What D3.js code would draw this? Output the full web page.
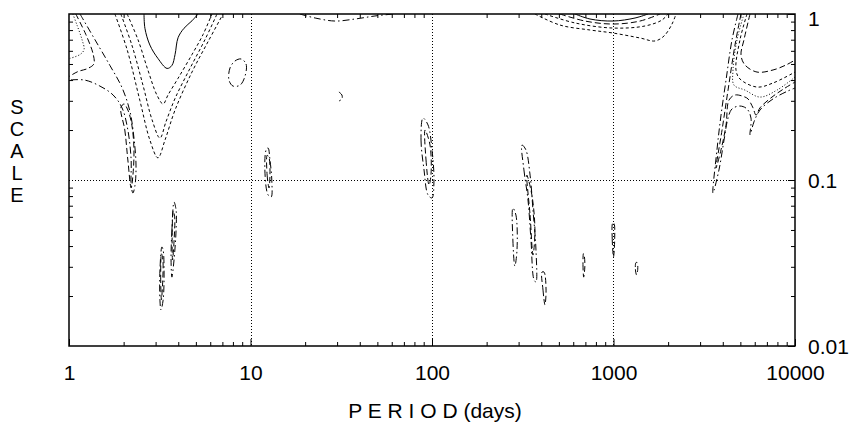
<!DOCTYPE html>
<html><head><meta charset="utf-8">
<script src="https://cdn.jsdelivr.net/npm/d3@7"></script>
<style>
body{margin:0;background:#fff}
svg{display:block}
text{font-family:"Liberation Sans",Arial,Helvetica,sans-serif;fill:#000}
</style>
</head><body>
<svg id="chart" width="860" height="424"></svg>
<script>
// ---------- data ----------
const xTickValues = [1, 10, 100, 1000, 10000];
const xTickLabels = ["1", "10", "100", "1000", "10000"];
const yTickValues = [1, 0.1, 0.01];
const yTickLabels = ["1", "0.1", "0.01"];
const xGrid = [10, 100, 1000];
const yGrid = [0.1];
const xTitle = "P E R I O D (days)";
const yTitle = ["S", "C", "A", "L", "E"];

// contour paths, [period (days), scale], grouped by contour level
const levelSolid = [
  [[614,1],[742,0.933],[994,0.907],[1314,0.946],[1549,1]],
  [[2.59,1],[2.62,0.82],[2.79,0.65],[3.09,0.54],[3.47,0.47],[3.69,0.49],[3.84,0.57],[3.99,0.72],[4.30,0.82],[4.76,0.91],[5.14,1]]
];
const levelDash = [
  [[1.09,1],[1.24,0.75],[1.36,0.57],[1.37,0.50],[1.27,0.47],[1.12,0.45],[1,0.42]],
  [[1.93,0.272],[2.03,0.2],[2.11,0.132],[2.2,0.0895],[2.25,0.107],[2.28,0.152],[2.22,0.214],[2.11,0.264],[2.01,0.287],[1.93,0.272]],
  [[507,1],[697,0.907],[994,0.87],[1400,0.907],[1804,1]],
  [[5040,1],[4670,0.65],[4276,0.348],[3963,0.2],[3671,0.118],[3912,0.152],[4169,0.214],[4329,0.303],[4670,0.325],[5302,0.316],[5508,0.308],[5870,0.272],[6100,0.246],[6412,0.272],[7470,0.316],[8810,0.358],[10000,0.389]],
  [[5649,1],[5236,0.70],[5040,0.566],[5302,0.493],[6175,0.447],[7568,0.46],[8920,0.493],[10000,0.528]],
  [[12.35,0.141],[12.35,0.107],[12.65,0.0895],[12.8,0.107],[12.65,0.136],[12.35,0.141]],
  [[91.5,0.2],[92.7,0.132],[96.3,0.0933],[98.7,0.107],[97.5,0.1625],[91.5,0.2]],
  [[333,0.107],[347,0.0615],[360,0.0353],[369,0.05],[355,0.0813],[333,0.107]],
  [[404,0.0279],[409,0.0217],[419,0.0177],[425,0.0217],[414,0.0279],[404,0.0279]],
  [[683,0.036],[679,0.031],[685,0.026],[695,0.030],[690,0.035],[683,0.036]],
  [[990,0.055],[984,0.044],[1000,0.0344],[1015,0.044],[1005,0.055],[990,0.055]],
  [[1330,0.0318],[1320,0.029],[1340,0.0268],[1360,0.029],[1350,0.0318],[1330,0.0318]],
  [[3.75,0.065],[3.70,0.045],[3.72,0.033],[3.80,0.045],[3.82,0.06],[3.75,0.065]],
  [[3.23,0.036],[3.20,0.026],[3.23,0.019],[3.28,0.024],[3.29,0.033],[3.23,0.036]]
];
const levelShortDash = [
  [[2.09,1],[2.40,0.70],[2.72,0.46],[3.05,0.325],[3.30,0.287],[3.51,0.325],[3.99,0.41],[4.76,0.57],[5.47,0.75],[6.13,1]],
  [[1.93,1],[2.22,0.65],[2.56,0.37],[2.87,0.23],[3.17,0.179],[3.42,0.224],[3.84,0.31],[4.64,0.47],[5.61,0.70],[6.54,1]],
  [[1.79,1],[2.09,0.61],[2.46,0.30],[2.79,0.174],[3.09,0.136],[3.38,0.174],[3.84,0.264],[4.76,0.447],[5.83,0.68],[7.06,1]],
  [[419,1],[614,0.883],[994,0.823],[1492,0.847],[1850,0.92],[1995,1]],
  [[369,1],[507,0.858],[742,0.801],[994,0.768],[1400,0.717],[1693,0.688],[1898,0.737],[2101,0.87],[2210,1]],
  [[5440,1],[4977,0.70],[4730,0.46],[4977,0.406],[6175,0.363],[7568,0.384],[10000,0.447]]
];
const levelDot = [
  [[1.05,1],[1.11,0.85],[1.18,0.70],[1.21,0.61],[1.15,0.57],[1.01,0.54]],
  [[5236,1],[4791,0.70],[4554,0.46],[4613,0.373],[5302,0.348],[6412,0.316],[7960,0.348],[10000,0.417]]
];
const levelDashDot = [
  [[1.15,1],[1.39,0.70],[1.68,0.49],[1.96,0.36],[2.17,0.257],[2.28,0.179],[2.34,0.123],[2.31,0.093],[2.25,0.0835],[2.2,0.093],[2.2,0.132],[2.11,0.2],[1.96,0.272],[1.75,0.325],[1.48,0.368],[1.22,0.40],[1,0.40]],
  [[8.87,0.536],[9.45,0.50],[9.33,0.423],[8.76,0.373],[8.01,0.368],[7.61,0.40],[7.71,0.473],[8.21,0.521],[8.87,0.536]],
  [[18.7,1],[22.7,0.946],[29.2,0.907],[37.7,0.933],[48.5,0.973],[61,1]],
  [[30.7,0.339],[31.9,0.325],[31.9,0.308],[30.7,0.299]],
  [[12.2,0.152],[12.0,0.115],[12.5,0.0813],[13.0,0.079],[13.1,0.1],[12.8,0.132],[12.5,0.156],[12.2,0.152]],
  [[89.2,0.236],[87.0,0.174],[90.4,0.115],[95.1,0.0813],[100,0.078],[102.5,0.1],[100,0.152],[95.1,0.2145],[89.2,0.236]],
  [[313,0.1625],[321,0.115],[338,0.0758],[351,0.0435],[365,0.025],[374,0.0243],[374,0.0379],[360,0.066],[347,0.107],[329,0.152],[313,0.1625]],
  [[279,0.0678],[279,0.0435],[286,0.0303],[294,0.0379],[290,0.0615],[279,0.0678]],
  [[3.79,0.0737],[3.69,0.05],[3.65,0.033],[3.69,0.026],[3.79,0.033],[3.89,0.05],[3.89,0.066],[3.79,0.0737]],
  [[3.25,0.0395],[3.17,0.0287],[3.17,0.0189],[3.21,0.0165],[3.30,0.0189],[3.34,0.0287],[3.30,0.0379],[3.25,0.0395]],
  [[4853,1],[4498,0.70],[4169,0.40],[3912,0.246],[3716,0.152],[3531,0.0835],[3811,0.115],[4064,0.174],[4276,0.236],[4498,0.268],[4977,0.279],[5440,0.268],[5723,0.236],[5649,0.187],[5943,0.224],[6412,0.264],[7568,0.308],[9151,0.344],[10000,0.358]]
];

// ---------- layout / styles ----------
const M = {l: 69, r: 795, t: 14, b: 346};
const FS = 21;
const styles = [
  {paths: levelSolid, dash: null},
  {paths: levelDash, dash: "6,3"},
  {paths: levelShortDash, dash: "3,2.5"},
  {paths: levelDot, dash: "1,2"},
  {paths: levelDashDot, dash: "7,3,1.5,3"}
];

const svg = d3.select("#chart");
const x = d3.scaleLog().domain([1, 10000]).range([M.l, M.r]);
const y = d3.scaleLog().domain([0.01, 1]).range([M.b, M.t]);

svg.append("defs").append("clipPath").attr("id", "clip")
  .append("rect").attr("x", M.l).attr("y", M.t).attr("width", M.r - M.l).attr("height", M.b - M.t);

// grid
const grid = svg.append("g").attr("stroke", "#000").attr("stroke-width", 1).attr("stroke-dasharray", "1,2");
grid.selectAll(".gx").data(xGrid).join("line")
  .attr("x1", d => Math.round(x(d)) + 0.5).attr("x2", d => Math.round(x(d)) + 0.5)
  .attr("y1", M.t).attr("y2", M.b);
grid.selectAll(".gy").data(yGrid).join("line")
  .attr("y1", d => Math.round(y(d)) + 0.5).attr("y2", d => Math.round(y(d)) + 0.5)
  .attr("x1", M.l).attr("x2", M.r);

// contours
const openLine = d3.line().x(d => x(d[0])).y(d => y(d[1])).curve(d3.curveCatmullRom.alpha(0.5));
const closedLine = d3.line().x(d => x(d[0])).y(d => y(d[1])).curve(d3.curveCatmullRomClosed.alpha(0.5));
const cg = svg.append("g").attr("clip-path", "url(#clip)");
styles.forEach(s => {
  cg.append("g").selectAll("path").data(s.paths).join("path")
    .attr("d", p => {
      const a = p[0], b = p[p.length - 1];
      if (a[0] === b[0] && a[1] === b[1]) return closedLine(p.slice(0, -1));
      return openLine(p);
    })
    .attr("fill", "none").attr("stroke", "#000").attr("stroke-width", 1)
    .attr("stroke-dasharray", s.dash);
});

// minor ticks
const xMinor = x.ticks().filter(v => !xTickValues.includes(v));
const yMinor = y.ticks().filter(v => !yTickValues.includes(v));
function clean(g){ g.select(".domain").remove(); g.selectAll("line").attr("stroke", "#000"); }
svg.append("g").attr("transform", `translate(0,${M.b})`)
  .call(d3.axisBottom(x).tickValues(xMinor).tickSize(-4).tickFormat("")).call(clean);
svg.append("g").attr("transform", `translate(0,${M.t})`)
  .call(d3.axisTop(x).tickValues(xMinor).tickSize(-4).tickFormat("")).call(clean);
svg.append("g").attr("transform", `translate(${M.l},0)`)
  .call(d3.axisLeft(y).tickValues(yMinor).tickSize(-4).tickFormat("")).call(clean);
svg.append("g").attr("transform", `translate(${M.r},0)`)
  .call(d3.axisRight(y).tickValues(yMinor).tickSize(-4).tickFormat("")).call(clean);

// major ticks + labels
const xa = svg.append("g").attr("transform", `translate(0,${M.b})`)
  .call(d3.axisBottom(x).tickValues(xTickValues).tickSize(-7).tickPadding(19)
    .tickFormat((d, i) => xTickLabels[i]));
xa.call(clean);
xa.selectAll("text").attr("font-size", FS).attr("font-family", "Liberation Sans, Arial, sans-serif");
const ya = svg.append("g").attr("transform", `translate(${M.r},0)`)
  .call(d3.axisRight(y).tickValues(yTickValues).tickSize(-7).tickPadding(13)
    .tickFormat((d, i) => yTickLabels[i]));
ya.call(clean);
ya.selectAll("text").attr("font-size", FS).attr("font-family", "Liberation Sans, Arial, sans-serif")
  .attr("dy", (d, i) => i === 0 ? "0.55em" : "0.35em");

// frame
svg.append("rect").attr("x", M.l).attr("y", M.t).attr("width", M.r - M.l).attr("height", M.b - M.t)
  .attr("fill", "none").attr("stroke", "#000").attr("stroke-width", 1.5);

// titles
svg.append("text").attr("x", (M.l + M.r) / 2 + 3).attr("y", 418).attr("text-anchor", "middle")
  .attr("font-size", FS).text(xTitle);
svg.append("g").selectAll("text").data(yTitle).join("text")
  .attr("x", 17).attr("y", (d, i) => 114 + i * 22).attr("text-anchor", "middle")
  .attr("font-size", 20).text(d => d);
</script>
</body></html>
